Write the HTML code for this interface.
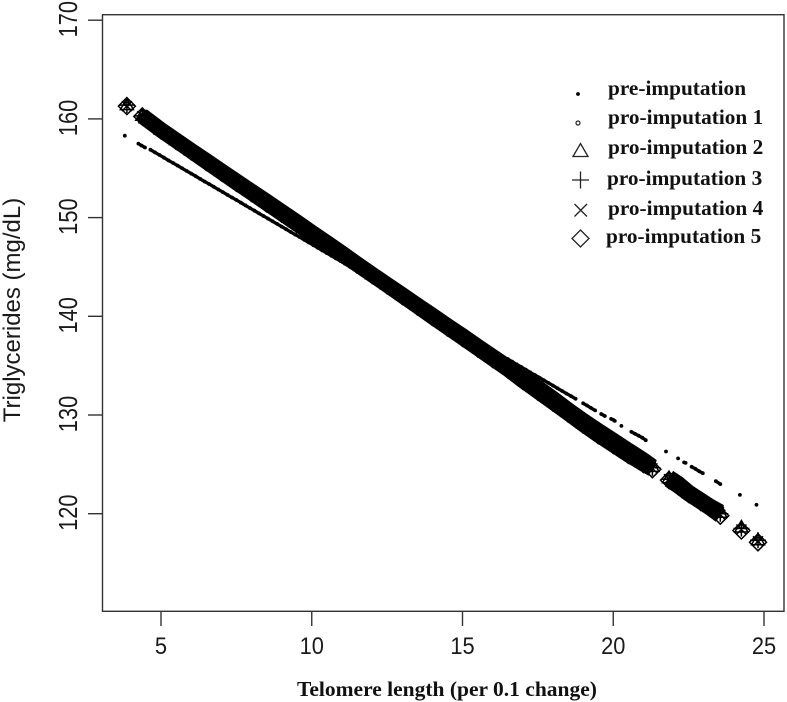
<!DOCTYPE html>
<html>
<head>
<meta charset="utf-8">
<title>Triglycerides vs telomere length</title>
<style>
html,body{margin:0;padding:0;background:#fff;}
svg{display:block;}
.tick{font-family:"Liberation Sans",sans-serif;font-size:23px;fill:#1a1a1a;}
.ytitle{font-family:"Liberation Sans",sans-serif;font-size:24px;fill:#1a1a1a;}
.xtitle{font-family:"Liberation Serif",serif;font-weight:bold;font-size:21.5px;fill:#111;}
.leg{font-family:"Liberation Serif",serif;font-weight:bold;font-size:21.3px;fill:#111;}
</style>
</head>
<body>
<svg id="chart" width="787" height="702" viewBox="0 0 787 702" xmlns="http://www.w3.org/2000/svg">
<rect x="0" y="0" width="787" height="702" fill="#fff"/>
<rect x="102.5" y="14.7" width="681.5" height="596.6" fill="none" stroke="#333" stroke-width="1.4"/>
<g id="marks"></g>
<g id="axes"></g>
<text class="ytitle" transform="translate(20,310) rotate(-90)" text-anchor="middle">Triglycerides (mg/dL)</text>
<text class="xtitle" x="447" y="696" text-anchor="middle">Telomere length (per 0.1 change)</text>
<g id="legend">
<circle cx="578" cy="94" r="1.9" fill="#000"/>
<text class="leg" x="608" y="95">pre-imputation</text>
<circle cx="578" cy="123" r="2" fill="none" stroke="#222" stroke-width="1.2"/>
<text class="leg" x="608" y="124">pro-imputation 1</text>
<path d="M580.5 143.5 L588 156.5 L573 156.5 Z" fill="none" stroke="#222" stroke-width="1.3"/>
<text class="leg" x="608" y="154">pro-imputation 2</text>
<path d="M572 180 H589 M580.5 171.5 V188.5" fill="none" stroke="#222" stroke-width="1.3"/>
<text class="leg" x="607" y="185">pro-imputation 3</text>
<path d="M574.5 204 L587 216.5 M587 204 L574.5 216.5" fill="none" stroke="#222" stroke-width="1.3"/>
<text class="leg" x="608" y="215">pro-imputation 4</text>
<path d="M580.5 230 L589 238.5 L580.5 247 L572 238.5 Z" fill="none" stroke="#222" stroke-width="1.3"/>
<text class="leg" x="606" y="243">pro-imputation 5</text>
</g>
</svg>
<script>
var xTicks = [5, 10, 15, 20, 25];
var yTicks = [120, 130, 140, 150, 160, 170];

var preX = [3.8, 4.25, 4.35, 4.47, 4.65, 4.8, 4.95, 5.1, 5.25, 5.4, 5.55, 5.7, 5.85, 6, 6.15, 6.3, 6.45, 6.6, 6.75, 6.9, 7.05, 7.2, 7.35, 7.5, 7.65, 7.8, 7.95, 8.1, 8.25, 8.4, 8.55, 8.7, 8.85, 9, 9.15, 9.3, 9.45, 9.6, 9.75, 9.9, 10.05, 10.2, 10.35, 10.5, 10.65, 10.8, 10.95, 11.1, 11.25, 11.4, 11.55, 11.7, 11.85, 13, 14, 15, 16, 16.5, 16.65, 16.8, 16.95, 17.1, 17.25, 17.4, 17.55, 17.7, 17.85, 18, 18.15, 18.3, 18.45, 18.6, 18.75, 19, 19.13, 19.26, 19.4, 19.6, 19.72, 19.93, 20.0, 20.05, 20.27, 20.6, 20.72, 20.84, 20.96, 21.08, 21.75, 22.15, 22.35, 22.4, 22.6, 22.72, 22.85, 22.97, 23.4, 23.55, 24.2, 24.75];
var preY = [158.3, 157.5, 157.3, 157.1, 156.88, 156.61, 156.34, 156.07, 155.8, 155.53, 155.27, 155, 154.73, 154.46, 154.19, 153.92, 153.65, 153.39, 153.12, 152.85, 152.58, 152.31, 152.04, 151.78, 151.51, 151.24, 150.97, 150.7, 150.43, 150.16, 149.9, 149.63, 149.36, 149.09, 148.82, 148.55, 148.28, 148.02, 147.75, 147.48, 147.21, 146.94, 146.67, 146.4, 146.14, 145.87, 145.6, 145.33, 145.06, 144.79, 144.53, 144.26, 143.99, 141.93, 140.14, 138.35, 136.56, 135.67, 135.4, 135.13, 134.86, 134.59, 134.32, 134.05, 133.79, 133.52, 133.25, 132.98, 132.71, 132.44, 132.17, 131.91, 131.64, 131.19, 130.96, 130.72, 130.47, 130.1, 129.9, 129.6, 129.5, 129.4, 128.9, 128.3, 128.1, 127.9, 127.7, 127.45, 126.3, 125.6, 125.2, 125.15, 124.75, 124.55, 124.3, 124.1, 123.3, 123, 121.9, 120.9];

var proX = [3.87, 4.38, 4.5, 5, 5.5, 6, 6.5, 7, 7.5, 8, 8.5, 9, 9.5, 10, 10.5, 11, 11.5, 12, 12.5, 13, 13.5, 14, 14.5, 15, 15.5, 16, 16.5, 17, 17.5, 18, 18.5, 19, 19.5, 20, 20.5, 21, 21.3, 21.85, 22.15, 22.5, 22.9, 23.2, 23.55, 24.25, 24.8];
var pro1Y = [161.5, 160.35, 160.08, 158.93, 157.87, 156.82, 155.8, 154.75, 153.73, 152.7, 151.68, 150.64, 149.59, 148.53, 147.5, 146.43, 145.34, 144.29, 143.24, 142.21, 141.16, 140.13, 139.08, 138.05, 136.99, 135.96, 134.91, 133.87, 132.8, 131.7, 130.56, 129.47, 128.45, 127.45, 126.45, 125.47, 124.81, 123.7, 123.1, 122.2, 121.4, 120.8, 120.2, 118.7, 117.4];
var pro2Y = [161.4, 160.32, 160.05, 158.9, 157.85, 156.8, 155.76, 154.71, 153.68, 152.65, 151.62, 150.58, 149.53, 148.48, 147.45, 146.39, 145.32, 144.27, 143.22, 142.17, 141.12, 140.08, 139.03, 137.99, 136.93, 135.89, 134.84, 133.8, 132.7, 131.6, 130.46, 129.36, 128.33, 127.33, 126.33, 125.36, 124.74, 123.6, 123.0, 122.1, 121.3, 120.7, 120.1, 118.6, 117.3];
var pro3Y = [161.4, 160.3, 160.03, 158.88, 157.82, 156.77, 155.72, 154.67, 153.63, 152.6, 151.56, 150.52, 149.47, 148.43, 147.4, 146.35, 145.29, 144.24, 143.19, 142.14, 141.08, 140.03, 138.98, 137.93, 136.87, 135.82, 134.77, 133.62, 132.51, 131.41, 130.36, 129.25, 128.2, 127.2, 126.2, 125.25, 124.66, 123.5, 122.9, 122.1, 121.3, 120.7, 120.0, 118.5, 117.3];
var pro4Y = [161.3, 160.28, 160.0, 158.85, 157.8, 156.75, 155.68, 154.63, 153.58, 152.55, 151.5, 150.46, 149.41, 148.38, 147.35, 146.31, 145.27, 144.22, 143.17, 142.1, 141.04, 139.98, 138.93, 137.87, 136.81, 135.75, 134.7, 133.55, 132.44, 131.34, 130.26, 129.14, 128.08, 127.08, 126.08, 125.14, 124.59, 123.5, 122.9, 122.0, 121.2, 120.6, 119.9, 118.4, 117.2];
var pro5Y = [161.3, 160.25, 159.98, 158.83, 157.77, 156.72, 155.64, 154.59, 153.53, 152.5, 151.44, 150.4, 149.35, 148.33, 147.3, 146.27, 145.24, 144.19, 143.14, 142.07, 141.0, 139.93, 138.88, 137.81, 136.75, 135.68, 134.63, 133.47, 132.36, 131.26, 130.16, 129.03, 127.95, 126.95, 125.95, 125.03, 124.51, 123.4, 122.8, 122.0, 121.2, 120.6, 119.8, 118.3, 117.1];

function xScale(v){ return 161 + (v - 5) * 30.15; }
function yScale(v){ return 415 - (v - 130) * 9.87; }

var NS = 'http://www.w3.org/2000/svg';
var marks = document.getElementById('marks');
var axes = document.getElementById('axes');

function svgEl(tag){ return document.createElementNS(NS, tag); }

function tracePath(xs, ys, maxGap){
  var d = '';
  for (var i = 0; i < xs.length; i++) {
    var connected = i > 0 && (xs[i] - xs[i - 1]) <= maxGap;
    d += (connected ? 'L' : 'M') + xScale(xs[i]).toFixed(1) + ' ' + yScale(ys[i]).toFixed(1);
  }
  return d;
}

function markerPath(kind, px, py){
  if (kind === 'triangle') return 'M' + px + ' ' + (py - 7) + 'L' + (px + 6.5) + ' ' + (py + 4.5) + 'L' + (px - 6.5) + ' ' + (py + 4.5) + 'Z';
  if (kind === 'plus') return 'M' + (px - 8) + ' ' + py + 'H' + (px + 8) + 'M' + px + ' ' + (py - 8) + 'V' + (py + 8);
  if (kind === 'cross') return 'M' + (px - 5) + ' ' + (py - 5) + 'L' + (px + 5) + ' ' + (py + 5) + 'M' + (px + 5) + ' ' + (py - 5) + 'L' + (px - 5) + ' ' + (py + 5);
  if (kind === 'diamond') return 'M' + px + ' ' + (py - 8.5) + 'L' + (px + 8.5) + ' ' + py + 'L' + px + ' ' + (py + 8.5) + 'L' + (px - 8.5) + ' ' + py + 'Z';
  return 'M' + (px - 2) + ' ' + py + 'A2 2 0 1 0 ' + (px + 2) + ' ' + py + 'A2 2 0 1 0 ' + (px - 2) + ' ' + py + 'Z';
}

var proSeries = [
  { key: 'pro-imputation-1', ys: pro1Y, kind: 'circle' },
  { key: 'pro-imputation-2', ys: pro2Y, kind: 'triangle' },
  { key: 'pro-imputation-3', ys: pro3Y, kind: 'plus' },
  { key: 'pro-imputation-4', ys: pro4Y, kind: 'cross' },
  { key: 'pro-imputation-5', ys: pro5Y, kind: 'diamond' }
];

proSeries.forEach(function (s) {
  var group = svgEl('g');
  
  
  var trace = svgEl('path');
  
  
  trace.setAttribute('d', tracePath(proX, s.ys, 0.505));
  trace.setAttribute('fill', 'none');
  trace.setAttribute('stroke', '#000');
  trace.setAttribute('stroke-width', '15');
  group.appendChild(trace);
  var d = '';
  for (var i = 0; i < proX.length; i++) {
    d += markerPath(s.kind, +xScale(proX[i]).toFixed(1), +yScale(s.ys[i]).toFixed(1));
  }
  var pts = svgEl('path');
  
  
  pts.setAttribute('d', d);
  pts.setAttribute('fill', 'none');
  pts.setAttribute('stroke', '#000');
  pts.setAttribute('stroke-width', '1.5');
  group.appendChild(pts);
  marks.appendChild(group);
});

var preGroup = svgEl('g');


var preTrace = svgEl('path');


preTrace.setAttribute('d', tracePath(preX, preY, 0.16));
preTrace.setAttribute('fill', 'none');
preTrace.setAttribute('stroke', '#000');
preTrace.setAttribute('stroke-width', '3.3');
preGroup.appendChild(preTrace);
for (var p = 0; p < preX.length; p++) {
  var dot = svgEl('circle');
  
  
  dot.setAttribute('cx', xScale(preX[p]).toFixed(1));
  dot.setAttribute('cy', yScale(preY[p]).toFixed(1));
  dot.setAttribute('r', '1.9');
  dot.setAttribute('fill', '#000');
  preGroup.appendChild(dot);
}
marks.appendChild(preGroup);

xTicks.forEach(function (t) {
  var px = xScale(t);
  var line = svgEl('line');
  
  
  line.setAttribute('x1', px);
  line.setAttribute('x2', px);
  line.setAttribute('y1', 611.3);
  line.setAttribute('y2', 626);
  line.setAttribute('stroke', '#333');
  line.setAttribute('stroke-width', '1.4');
  axes.appendChild(line);
  var label = svgEl('text');
  
  
  label.setAttribute('class', 'tick');
  label.setAttribute('transform', 'translate(' + px + ',654) scale(0.95,1.06)');
  label.setAttribute('text-anchor', 'middle');
  label.textContent = t;
  axes.appendChild(label);
});

yTicks.forEach(function (t) {
  var py = yScale(t);
  var line = svgEl('line');
  
  
  line.setAttribute('x1', 88);
  line.setAttribute('x2', 102.5);
  line.setAttribute('y1', py);
  line.setAttribute('y2', py);
  line.setAttribute('stroke', '#333');
  line.setAttribute('stroke-width', '1.4');
  axes.appendChild(line);
  var label = svgEl('text');
  
  
  label.setAttribute('class', 'tick');
  label.setAttribute('transform', 'translate(77,' + (py - 1) + ') rotate(-90) scale(0.95,1.12)');
  label.setAttribute('text-anchor', 'middle');
  label.textContent = t;
  axes.appendChild(label);
});
</script>
</body>
</html>
